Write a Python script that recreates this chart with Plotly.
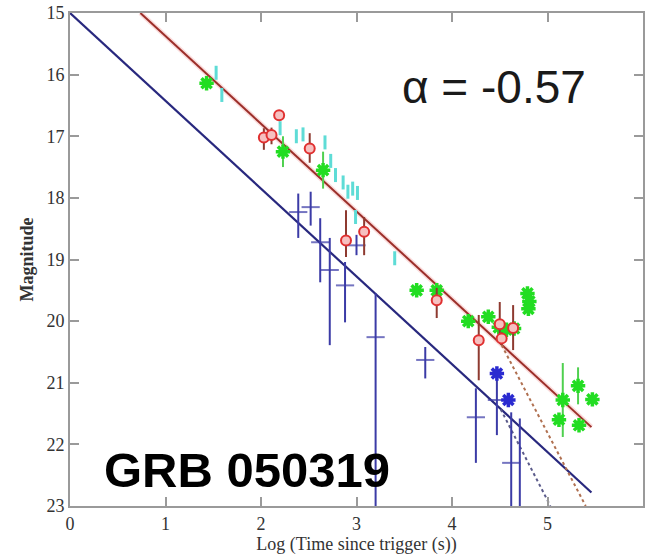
import plotly.graph_objects as go

# ---- data ----
# Green (asterisks)
green_x = [1.43, 2.23, 2.65, 3.63, 3.84, 4.17, 4.38, 4.49, 4.57, 4.65, 4.79, 4.81, 4.80, 5.16, 5.32, 5.47, 5.12, 5.33]
green_y = [16.14, 17.25, 17.55, 19.50, 19.50, 20.00, 19.93, 20.10, 20.14, 20.12, 19.55, 19.68, 19.80, 21.28, 21.05, 21.27, 21.60, 21.69]
green_err = [0.10, 0.25, 0.30, 0.08, 0.10, 0.08, 0.08, 0.10, 0.10, 0.10, 0.05, 0.05, 0.05, 0.60, 0.30, 0.05, 0.05, 0.05]

# Cyan (small vertical dashes)
cyan_x = [1.53, 1.59, 2.20, 2.37, 2.44, 2.67, 2.73, 2.78, 2.86, 2.91, 2.96, 3.01, 2.99, 3.40]
cyan_y = [15.97, 16.33, 16.87, 17.00, 16.97, 17.10, 17.40, 17.63, 17.75, 17.90, 17.85, 17.92, 18.31, 18.98]

# Red (circles)
red_x = [2.03, 2.11, 2.19, 2.51, 2.89, 3.08, 3.84, 4.28, 4.50, 4.52, 4.64]
red_y = [17.02, 16.98, 16.66, 17.20, 18.69, 18.55, 19.66, 20.31, 20.05, 20.28, 20.11]
red_err_up = [0.15, 0.12, 0.08, 0.25, 0.49, 0.24, 0.20, 0.41, 0.36, 0.10, 0.37]
red_err_down = [0.20, 0.15, 0.08, 0.23, 0.27, 0.38, 0.29, 0.65, 0.29, 0.10, 0.36]

# Blue (crosses)
blue_x = [2.39, 2.52, 2.62, 2.72, 2.88, 3.00, 3.20, 3.72, 4.25, 4.47, 4.62, 4.71]
blue_y = [18.23, 18.15, 18.72, 19.17, 19.42, 18.77, 20.26, 20.63, 21.56, 21.28, 22.30, 22.90]
blue_err_up = [0.30, 0.25, 0.39, 0.52, 0.38, 0.17, 0.71, 0.21, 0.47, 0.00, 0.82, 1.32]
blue_err_down = [0.42, 0.30, 0.65, 1.22, 0.60, 0.16, 2.74, 0.30, 0.74, 0.00, 1.00, 0.50]
blue_size = [13, 13, 13, 13, 13, 13, 13, 13, 13, 13, 13, 0]

# Blue star markers
bstar_x = [4.47, 4.59]
bstar_y = [20.85, 21.28]
bstar_err_down = [1.00, 0.00]

# Fitted decays (alpha = -0.57) and steeper breaks, end points
blue_fit_x = [0.0, 5.46]
blue_fit_y = [15.0, 22.78]
red_fit_x = [0.737, 5.46]
red_fit_y = [15.0, 21.72]
blue_break_x = [4.51, 5.03]
blue_break_y = [21.43, 23.0]
red_break_x = [4.52, 5.40]
red_break_y = [20.39, 23.0]

x_ticks = [0, 1, 2, 3, 4, 5, 6]
y_ticks = [15, 16, 17, 18, 19, 20, 21, 22, 23]

fig = go.Figure()

# fit lines
fig.add_trace(go.Scatter(x=red_fit_x, y=red_fit_y, mode="lines",
                         line=dict(color="rgba(240,120,120,0.25)", width=5), hoverinfo="skip"))
fig.add_trace(go.Scatter(x=red_fit_x, y=red_fit_y, mode="lines",
                         line=dict(color="#9c2f2a", width=2)))
fig.add_trace(go.Scatter(x=blue_fit_x, y=blue_fit_y, mode="lines",
                         line=dict(color="#28287e", width=2.2)))
fig.add_trace(go.Scatter(x=blue_break_x, y=blue_break_y, mode="lines",
                         line=dict(color="#5a5a8a", width=2, dash="dot")))
fig.add_trace(go.Scatter(x=red_break_x, y=red_break_y, mode="lines",
                         line=dict(color="#b07050", width=2, dash="dot")))

# cyan
fig.add_trace(go.Scatter(x=cyan_x, y=cyan_y, mode="markers",
                         marker=dict(symbol="line-ns-open", size=10, color="#5edcd6",
                                     line=dict(color="#5edcd6", width=3))))

# green
fig.add_trace(go.Scatter(x=green_x, y=green_y, mode="markers",
                         error_y=dict(type="data", array=green_err, color="#4fd04f", thickness=2, width=0),
                         marker=dict(symbol="asterisk-open", size=12, color="#22dd22",
                                     line=dict(color="#22dd22", width=3.5))))

# blue crosses
fig.add_trace(go.Scatter(x=blue_x, y=blue_y, mode="markers",
                         error_y=dict(type="data", array=blue_err_down, arrayminus=blue_err_up,
                                      color="#3b3ba6", thickness=2, width=0),
                         marker=dict(symbol="line-ew-open", size=blue_size, color="#3b3ba6",
                                     line=dict(color="#3b3ba6", width=2))))

# blue stars
fig.add_trace(go.Scatter(x=bstar_x, y=bstar_y, mode="markers",
                         error_y=dict(type="data", array=bstar_err_down, arrayminus=[0, 0],
                                      color="#3b3ba6", thickness=2, width=0),
                         marker=dict(symbol="asterisk-open", size=12, color="#2a2ad0",
                                     line=dict(color="#2a2ad0", width=3.5))))

# red circles
fig.add_trace(go.Scatter(x=red_x, y=red_y, mode="markers",
                         error_y=dict(type="data", array=red_err_down, arrayminus=red_err_up,
                                      color="#8e3a30", thickness=2, width=0),
                         marker=dict(symbol="circle", size=10, color="#f6c0c0",
                                     line=dict(color="#e03030", width=2))))

fig.add_annotation(x=4.44, y=16.2, text="α = -0.57", showarrow=False,
                   font=dict(family="Liberation Sans, Arial", size=46, color="#1a1a1a"),
                   xanchor="center", yanchor="middle")
fig.add_annotation(x=0.34, y=22.42, text="<b>GRB 050319</b>", showarrow=False,
                   font=dict(family="Liberation Sans, Arial", size=49, color="#000000"),
                   xanchor="left", yanchor="middle")

axis_common = dict(showline=True, linecolor="#9a9a9a", linewidth=2, mirror="ticks",
                   ticks="inside", ticklen=9, tickcolor="#9a9a9a", tickwidth=1.5,
                   showgrid=False, zeroline=False,
                   tickfont=dict(family="Liberation Serif, Times New Roman", size=18, color="#333333"))

fig.update_layout(
    width=647, height=560,
    margin=dict(l=70, r=2, t=13, b=54),
    paper_bgcolor="white", plot_bgcolor="white",
    showlegend=False,
    xaxis=dict(range=[0, 6], tickvals=x_ticks,
               title=dict(text="Log (Time since trigger (s))", standoff=4,
                          font=dict(family="Liberation Serif, Times New Roman", size=18, color="#333333")),
               **axis_common),
    yaxis=dict(range=[23, 15], tickvals=y_ticks,
               title=dict(text="<b>Magnitude</b>", standoff=8,
                          font=dict(family="Liberation Serif, Times New Roman", size=18, color="#333333")),
               **axis_common),
)

fig.write_html("out.html")
